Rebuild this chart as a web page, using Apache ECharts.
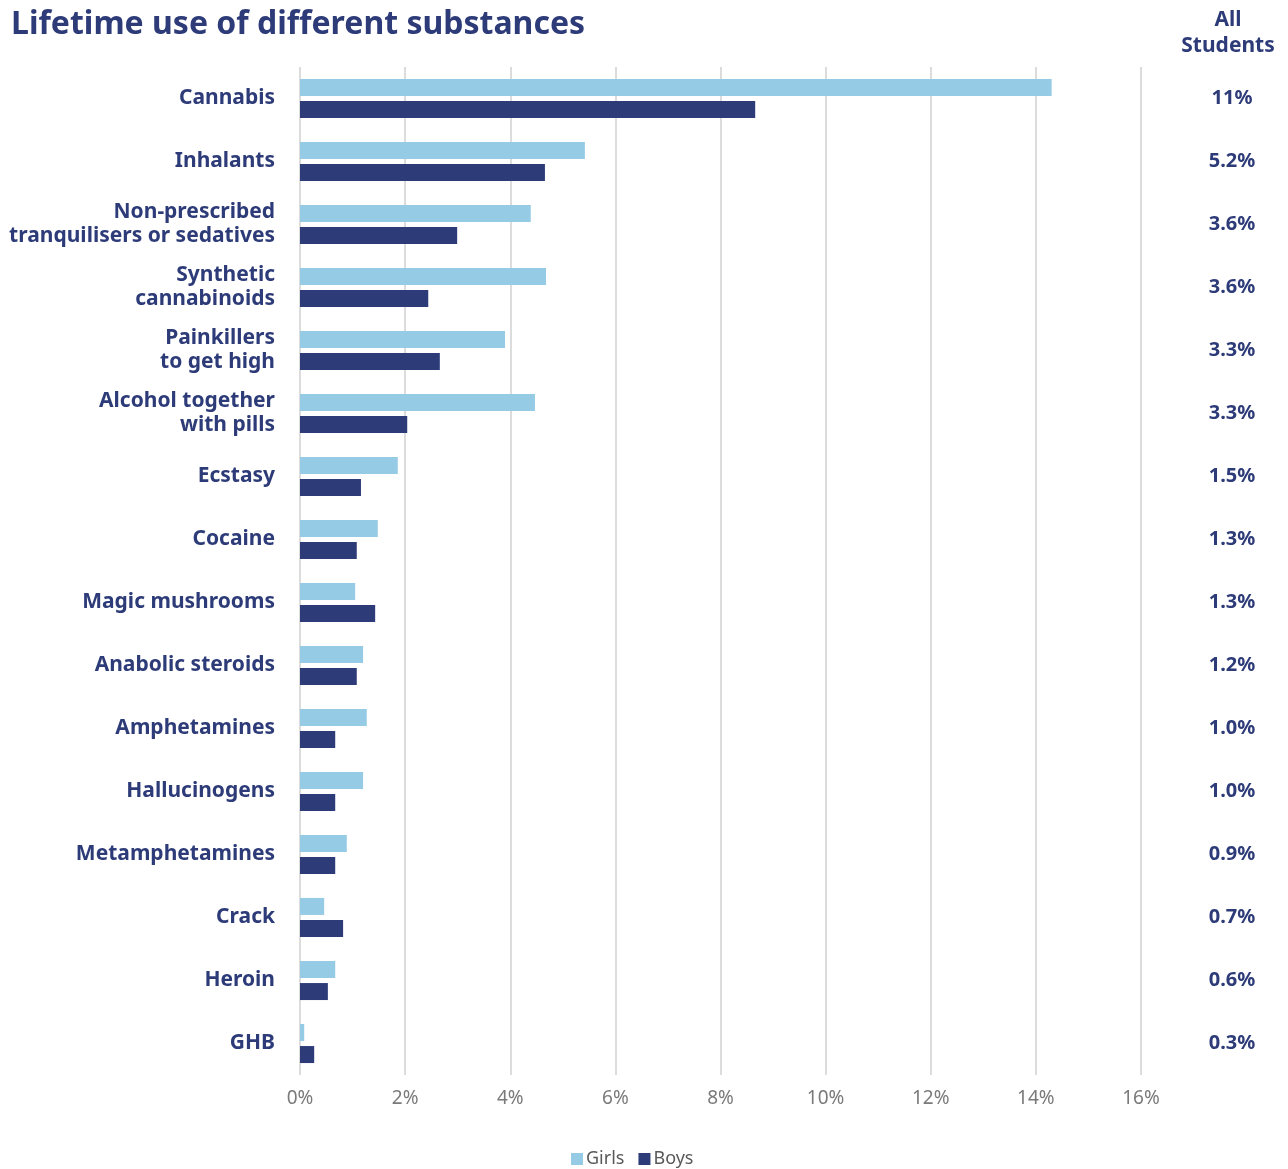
<!DOCTYPE html>
<html>
<head>
<meta charset="utf-8">
<script src="https://cdn.jsdelivr.net/npm/echarts@6/dist/echarts.min.js"></script>
<style>
html,body{margin:0;padding:0;background:#fff;}
#chart{width:1288px;height:1169px;}
</style>
</head>
<body>
<div id="chart"></div>
<script>
const categories = ["Cannabis","Inhalants","Non-prescribed\ntranquilisers or sedatives","Synthetic\ncannabinoids","Painkillers\nto get high","Alcohol together\nwith pills","Ecstasy","Cocaine","Magic mushrooms","Anabolic steroids","Amphetamines","Hallucinogens","Metamphetamines","Crack","Heroin","GHB"];
const girls = [14.3,5.42,4.39,4.68,3.9,4.47,1.86,1.48,1.05,1.2,1.27,1.2,0.89,0.46,0.67,0.08];
const boys = [8.66,4.66,2.99,2.44,2.66,2.04,1.16,1.08,1.43,1.08,0.67,0.67,0.67,0.82,0.53,0.27];
const allStudents = ["11%","5.2%","3.6%","3.6%","3.3%","3.3%","1.5%","1.3%","1.3%","1.2%","1.0%","1.0%","0.9%","0.7%","0.6%","0.3%"];
const xTicks = [0,2,4,6,8,10,12,14,16];

const navy = '#2D3B78';
const light = '#95CBE5';
const font = '"Noto Sans", sans-serif';

const chart = echarts.init(document.getElementById('chart'));
chart.setOption({
  animation:false,
  textStyle:{fontFamily:font},
  title:{
    text:'Lifetime use of different substances',
    left:6, top:4,
    textStyle:{fontFamily:font,fontSize:32,fontWeight:'bold',color:navy}
  },
  graphic:[{
    type:'text', x:1228, y:7,
    style:{text:'All\nStudents', fill:navy, font:'bold 21px "Noto Sans", sans-serif', textAlign:'center', lineHeight:26}
  }],
  legend:{
    bottom:-4, left:566,
    itemWidth:12, itemHeight:12, itemGap:14,
    icon:'rect',
    textStyle:{fontFamily:font,fontSize:18,color:'#595959',padding:[0,0,0,-2]},
    data:['Girls','Boys']
  },
  grid:{left:300, top:67, width:841, height:1008, containLabel:false},
  xAxis:{
    type:'value', min:0, max:16, interval:2,
    axisLine:{show:false}, axisTick:{show:false},
    splitLine:{show:true, lineStyle:{color:'#dcdcdc', width:2}},
    axisLabel:{
      margin:14, fontSize:19, color:'#7a7a7a', fontFamily:font,
      formatter:function(v){return xTicks.indexOf(v)>=0 ? v+'%' : '';}
    }
  },
  yAxis:[{
    type:'category', inverse:true, data:categories,
    axisLine:{show:false}, axisTick:{show:false},
    axisLabel:{margin:25, fontSize:21, fontWeight:'bold', color:navy, fontFamily:font, lineHeight:24, align:'right', padding:[4,0,0,0]}
  },{
    type:'category', inverse:true, data:allStudents, position:'right',
    axisLine:{show:false}, axisTick:{show:false},
    axisLabel:{margin:91, fontSize:20, fontWeight:'bold', color:navy, fontFamily:font, align:'center', padding:[5,0,0,0]}
  }],
  series:[
    {name:'Girls', type:'bar', data:girls, barWidth:17, barGap:'30%', itemStyle:{color:light}},
    {name:'Boys', type:'bar', data:boys, barWidth:17, barGap:'30%', itemStyle:{color:navy}}
  ]
});
</script>
</body>
</html>
